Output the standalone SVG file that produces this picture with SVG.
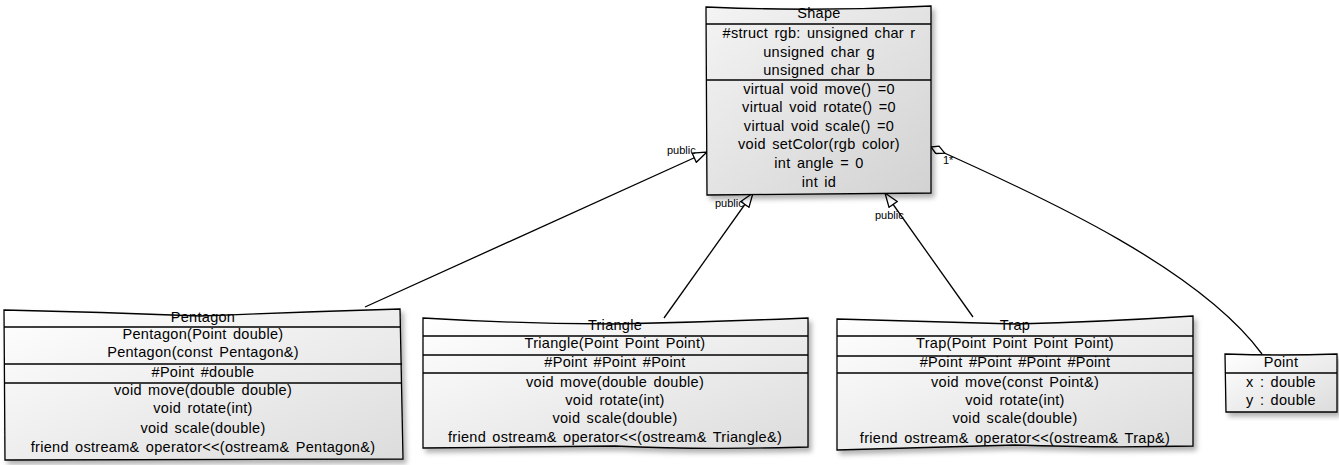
<svg xmlns="http://www.w3.org/2000/svg" width="1339" height="465" viewBox="0 0 1339 465">
<style>
.box{stroke:#000;stroke-width:1.3;fill:url(#g)}
.sep{stroke:#000;stroke-width:1.3}
.t{font-family:"Liberation Sans",Arial,sans-serif;font-size:14.5px;text-anchor:middle;fill:#000;letter-spacing:0.3px;word-spacing:2px}
.lbl{font-family:"Liberation Sans",Arial,sans-serif;font-size:11px;fill:#000}
.c{stroke:#000;stroke-width:1.3;fill:none}
</style>
<defs>
<linearGradient id="g" x1="0" y1="0" x2="1" y2="1">
<stop offset="0" stop-color="#ffffff"/>
<stop offset="1" stop-color="#dcdcdc"/>
</linearGradient>
<linearGradient id="gs" x1="0" y1="0" x2="1" y2="1">
<stop offset="0" stop-color="#f4f4f4"/>
<stop offset="1" stop-color="#d2d2d2"/>
</linearGradient>
<filter id="sh" x="-5%" y="-5%" width="115%" height="120%">
<feDropShadow dx="3" dy="4" stdDeviation="2.5" flood-color="#000" flood-opacity="0.3"/>
</filter>
<marker id="tri" viewBox="0 0 16 12" refX="15" refY="6" markerWidth="16" markerHeight="12" markerUnits="userSpaceOnUse" orient="auto">
<path d="M1,1 L15,6 L1,11 Z" fill="#fff" stroke="#000" stroke-width="1.3"/>
</marker>
<marker id="dia" viewBox="0 0 18 10" refX="1" refY="5" markerWidth="18" markerHeight="10" markerUnits="userSpaceOnUse" orient="auto">
<path d="M1,5 L8,1 L16,5 L8,9 Z" fill="#fff" stroke="#000" stroke-width="1.3"/>
</marker>
</defs>

<g id="connectors">
<path class="c" d="M365,307 L707,152" marker-end="url(#tri)"/>
<path class="c" d="M664,318 L753,193" marker-end="url(#tri)"/>
<path class="c" d="M973,317 L885,193" marker-end="url(#tri)"/>
<path class="c" d="M931,147 C1050,200 1200,270 1262,354" marker-start="url(#dia)"/>
<text class="lbl" x="667" y="154">public</text>
<text class="lbl" x="715" y="207">public</text>
<text class="lbl" x="875" y="219">public</text>
<text class="lbl" x="943" y="164">1*</text>
</g>

<g id="Shape">
<path class="box" style="fill:url(#gs)" filter="url(#sh)" d="M706,7 Q820,12 931,6 L931,193 L707,195 Z"/>
<line class="sep" x1="706" y1="24" x2="931" y2="24"/>
<line class="sep" x1="706" y1="80" x2="931" y2="80"/>
<text class="t" x="819" y="18">Shape</text>
<text class="t" x="819" y="38">#struct rgb: unsigned char r</text>
<text class="t" x="819" y="57">unsigned char g</text>
<text class="t" x="819" y="75">unsigned char b</text>
<text class="t" x="819" y="94">virtual void move() =0</text>
<text class="t" x="819" y="112">virtual void rotate() =0</text>
<text class="t" x="819" y="131">virtual void scale() =0</text>
<text class="t" x="819" y="149">void setColor(rgb color)</text>
<text class="t" x="819" y="168">int angle = 0</text>
<text class="t" x="819" y="187">int id</text>
</g>

<g id="Pentagon">
<path class="box" filter="url(#sh)" d="M4,310 Q100,312 200,316 Q300,312 400,309 L403,459 L5,460 Z"/>
<line class="sep" x1="4" y1="327" x2="401" y2="327"/>
<line class="sep" x1="4" y1="364" x2="402" y2="364"/>
<line class="sep" x1="4" y1="383" x2="402" y2="383"/>
<text class="t" x="203" y="322">Pentagon</text>
<text class="t" x="203" y="339">Pentagon(Point double)</text>
<text class="t" x="203" y="357">Pentagon(const Pentagon&amp;)</text>
<text class="t" x="203" y="377">#Point #double</text>
<text class="t" x="203" y="395">void move(double double)</text>
<text class="t" x="203" y="413">void rotate(int)</text>
<text class="t" x="203" y="433">void scale(double)</text>
<text class="t" x="203" y="452">friend ostream&amp; operator&lt;&lt;(ostream&amp; Pentagon&amp;)</text>
</g>

<g id="Triangle">
<path class="box" filter="url(#sh)" d="M423,318 Q520,324 615,324 Q710,322 808,318 L808,447 Q700,450 615,446 L423,448 Z"/>
<line class="sep" x1="423" y1="336" x2="808" y2="336"/>
<line class="sep" x1="423" y1="355" x2="808" y2="355"/>
<line class="sep" x1="423" y1="373" x2="808" y2="373"/>
<text class="t" x="615" y="330">Triangle</text>
<text class="t" x="615" y="348">Triangle(Point Point Point)</text>
<text class="t" x="615" y="367">#Point #Point #Point</text>
<text class="t" x="615" y="387">void move(double double)</text>
<text class="t" x="615" y="405">void rotate(int)</text>
<text class="t" x="615" y="423">void scale(double)</text>
<text class="t" x="615" y="442">friend ostream&amp; operator&lt;&lt;(ostream&amp; Triangle&amp;)</text>
</g>

<g id="Trap">
<path class="box" filter="url(#sh)" d="M837,319 Q930,322 1015,324 Q1100,322 1193,316 L1193,446 Q1100,448 1015,445 L837,450 Z"/>
<line class="sep" x1="837" y1="336" x2="1193" y2="336"/>
<line class="sep" x1="837" y1="356" x2="1193" y2="356"/>
<line class="sep" x1="837" y1="373" x2="1193" y2="373"/>
<text class="t" x="1015" y="330">Trap</text>
<text class="t" x="1015" y="348">Trap(Point Point Point Point)</text>
<text class="t" x="1015" y="367">#Point #Point #Point #Point</text>
<text class="t" x="1015" y="387">void move(const Point&amp;)</text>
<text class="t" x="1015" y="405">void rotate(int)</text>
<text class="t" x="1015" y="423">void scale(double)</text>
<text class="t" x="1015" y="443">friend ostream&amp; operator&lt;&lt;(ostream&amp; Trap&amp;)</text>
</g>

<g id="Point">
<path class="box" filter="url(#sh)" d="M1225,354 Q1280,356 1337,354 L1337,412 L1226,412 Z"/>
<line class="sep" x1="1225" y1="373" x2="1337" y2="373"/>
<text class="t" x="1281" y="367">Point</text>
<text class="t" x="1281" y="387">x : double</text>
<text class="t" x="1281" y="405">y : double</text>
</g>
</svg>
